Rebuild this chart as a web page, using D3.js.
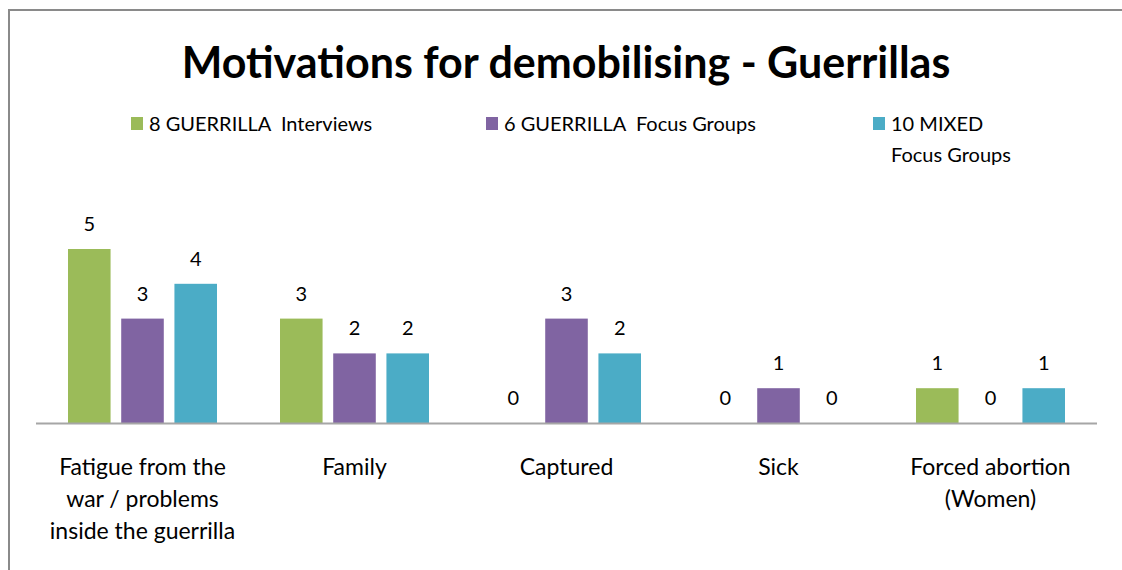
<!DOCTYPE html>
<html><head><meta charset="utf-8">
<script src="https://cdn.jsdelivr.net/npm/d3@7"></script>
<style>body{margin:0;background:#fff}svg{display:block}</style>
</head><body>
<script>
const categories = [["Fatigue from the","war / problems","inside the guerrilla"],["Family"],["Captured"],["Sick"],["Forced abortion","(Women)"]];
const seriesNames = [["8 GUERRILLA  Interviews"],["6 GUERRILLA  Focus Groups"],["10 MIXED","Focus Groups"]];
const interviews = [5,3,0,0,1];
const guerrillaFG = [3,2,3,1,0];
const mixedFG = [4,2,2,0,1];
const colors = ["#9BBB59","#8064A2","#4BACC6"];
const series = [interviews, guerrillaFG, mixedFG];

const W=1122,H=570;
const svg=d3.select("body").append("svg").attr("width",W).attr("height",H);
const font="Lato, 'Open Sans', sans-serif";
svg.append("rect").attr("x",9).attr("y",10).attr("width",1140).attr("height",600).attr("fill","#fff").attr("stroke","#8a8a8a").attr("stroke-width",2);

svg.append("text").attr("x",566).attr("y",78).attr("text-anchor","middle")
 .attr("font-family",font).attr("font-weight","bold").attr("font-size",43).attr("fill","#000")
 .text("Motivations for demobilising - Guerrillas");

const x0=d3.scaleBand().domain(d3.range(categories.length)).range([36.5,1096.5]);
const x1=d3.scaleBand().domain(d3.range(3)).range([31.5,180.5]).paddingInner(0.2);
const y=d3.scaleLinear().domain([0,5]).range([423,249]);

const g=svg.append("g");
series.forEach((vals,si)=>{
  g.selectAll(null).data(vals).enter().append("rect")
   .attr("x",(d,i)=>x0(i)+x1(si)).attr("y",d=>y(d)).attr("width",x1.bandwidth()).attr("height",d=>y(0)-y(d))
   .attr("fill",colors[si]);
  g.selectAll(null).data(vals).enter().append("text")
   .attr("x",(d,i)=>x0(i)+x1(si)+x1.bandwidth()/2).attr("y",d=>y(d)-18)
   .attr("text-anchor","middle").attr("font-family",font).attr("font-size",20).attr("fill","#000")
   .text(d=>d);
});
svg.append("line").attr("x1",36).attr("x2",1097).attr("y1",423.5).attr("y2",423.5).attr("stroke","#a6a6a6").attr("stroke-width",2);

categories.forEach((lines,i)=>{
  const t=svg.append("text").attr("text-anchor","middle").attr("font-family",font).attr("font-size",23).attr("fill","#000");
  lines.forEach((l,j)=>t.append("tspan").attr("x",x0(i)+x0.bandwidth()/2).attr("y",475+j*32).text(l));
});

const legX=[131,486,873];
seriesNames.forEach((lines,si)=>{
  svg.append("rect").attr("x",legX[si]).attr("y",117).attr("width",12).attr("height",13).attr("fill",colors[si]);
  const t=svg.append("text").attr("font-family",font).attr("font-size",20).attr("fill","#000").attr("xml:space","preserve").style("white-space","pre");
  lines.forEach((l,j)=>t.append("tspan").attr("x",legX[si]+18).attr("y",131+j*31).text(l));
});
</script>
</body></html>
